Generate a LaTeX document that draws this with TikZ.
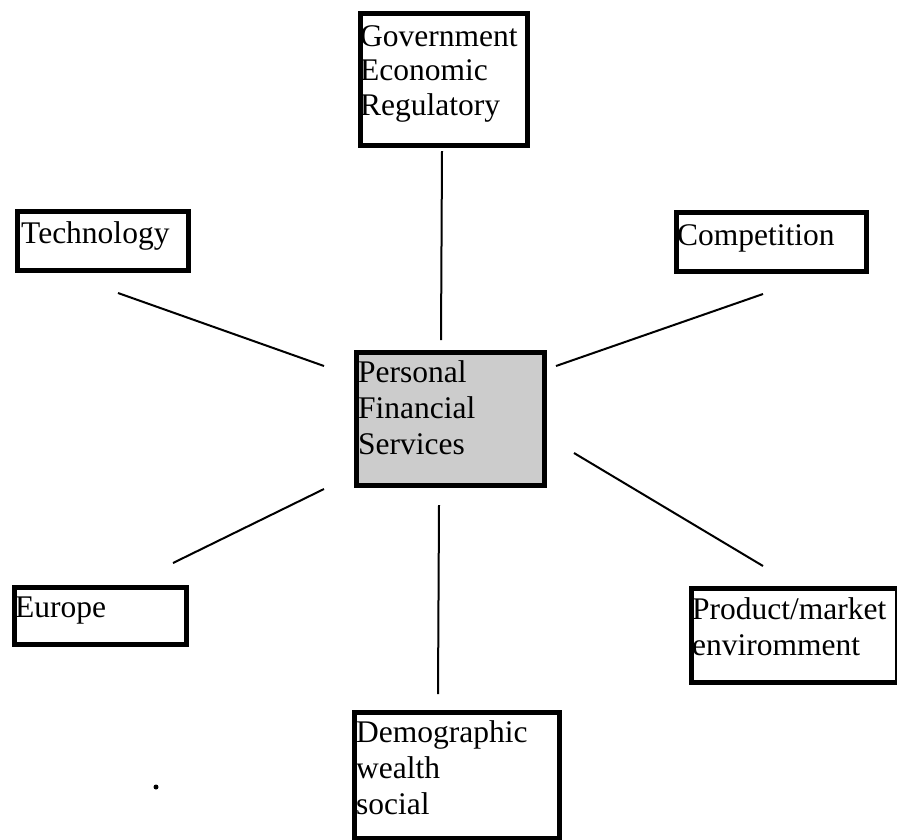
\documentclass[tikz,border=0pt]{standalone}
\usepackage{fontspec}
\setmainfont{Liberation Serif}
\begin{document}
\begin{tikzpicture}[x=1pt,y=-1pt,
  box/.style={draw=black, line width=4.5pt, inner sep=0pt, anchor=north west},
  hub/.style={box, fill=black!20},
  lbl/.style={inner sep=0pt, anchor=base west},
  spoke/.style={draw=black, line width=2pt}]
\useasboundingbox (0,0) rectangle (897,839);

% outer factor boxes and the central hub
\node[box, minimum width=167pt, minimum height=132pt] (gov)  at (358,11)  {};
\node[box, minimum width=171pt, minimum height=59pt]  (tech) at (15,209)  {};
\node[box, minimum width=190pt, minimum height=59pt]  (comp) at (674,210) {};
\node[hub, minimum width=188pt, minimum height=133pt] (ctr)  at (354,350) {};
\node[box, minimum width=172pt, minimum height=57pt]  (eur)  at (12,585)  {};
\node[box, minimum width=206pt, minimum height=94pt]  (prod) at (689,586) {};
\node[box, minimum width=205pt, minimum height=126pt] (demo) at (352,710) {};

% box texts, set flush left from the top of each box
\newcommand{\boxlines}[2]{\parbox[t]{260pt}{\fontsize{31.5}{#1}\selectfont #2}}
\node[lbl] (govt)  at (360,46)  {\boxlines{34.5}{Government\\Economic\\Regulatory}};
\node[lbl] (techt) at (21,243)  {\boxlines{36}{Technology}};
\node[lbl] (compt) at (677,245) {\boxlines{36}{Competition}};
\node[lbl] (ctrt)  at (358,382) {\boxlines{36}{Personal\\Financial\\Services}};
\node[lbl] (eurt)  at (15,617)  {\boxlines{36}{Europe}};
\node[lbl] (prodt) at (692,619) {\boxlines{36}{Product/market\\enviromment}};
\node[lbl] (demot) at (356,742) {\boxlines{36}{Demographic\\wealth\\social}};

% free ends of the spokes
\coordinate (govS)  at (442,151);
\coordinate (ctrN)  at (441,340);
\coordinate (techE) at (118,293);
\coordinate (ctrW)  at (324,366);
\coordinate (compW) at (763,294);
\coordinate (ctrE)  at (556,366);
\coordinate (ctrSW) at (324,489);
\coordinate (eurN)  at (173,563);
\coordinate (ctrSE) at (574,453);
\coordinate (prodN) at (763,566);
\coordinate (ctrS)  at (439,505);
\coordinate (demoN) at (438,694);

\draw[spoke] (govS) -- (ctrN);
\draw[spoke] (techE) -- (ctrW);
\draw[spoke] (compW) -- (ctrE);
\draw[spoke] (ctrSW) -- (eurN);
\draw[spoke] (ctrSE) -- (prodN);
\draw[spoke] (ctrS) -- (demoN);

% stray mark
\fill (156,787) circle[radius=2.5pt];
\end{tikzpicture}
\end{document}
